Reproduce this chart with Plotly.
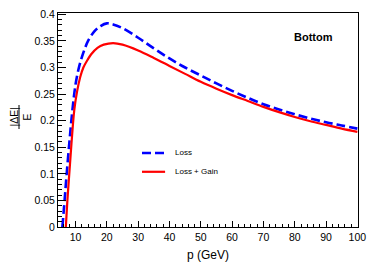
import plotly.graph_objects as go

# Data
p_loss = [5.8, 6.5, 7.1, 8, 9, 10, 11, 12, 13, 14, 16, 18, 20, 22, 25, 30, 35, 40, 45, 50,
          55, 60, 65, 70, 75, 80, 85, 90, 95, 100]
v_loss = [0.0, 0.05, 0.095, 0.157, 0.22, 0.268, 0.298, 0.319, 0.336, 0.350, 0.368, 0.378, 0.383,
          0.381, 0.374, 0.356, 0.336, 0.317, 0.300, 0.285, 0.270, 0.256, 0.243, 0.231, 0.221,
          0.212, 0.204, 0.197, 0.191, 0.185]

p_gain = [6.9, 7.4, 8, 8.7, 9.6, 10.5, 11.5, 12.5, 13.8, 15, 17, 19, 22, 25, 30, 35, 40, 45, 50,
          55, 60, 65, 70, 75, 80, 85, 90, 95, 100]
v_gain = [0.0, 0.05, 0.1, 0.157, 0.22, 0.255, 0.282, 0.300, 0.314, 0.325, 0.337, 0.343, 0.346,
          0.343, 0.332, 0.318, 0.303, 0.288, 0.273, 0.260, 0.248, 0.237, 0.226, 0.216, 0.207,
          0.199, 0.192, 0.185, 0.179]

series_names = ["Loss", "Loss + Gain"]
x_ticks = [10, 20, 30, 40, 50, 60, 70, 80, 90, 100]
y_ticks = [0, 0.05, 0.1, 0.15, 0.2, 0.25, 0.3, 0.35, 0.4]
y_ticktext = ["0", "0.05", "0.1", "0.15", "0.2", "0.25", "0.3", "0.35", "0.4"]

FONT = "Liberation Sans, Arial, sans-serif"

fig = go.Figure()
fig.add_trace(go.Scatter(x=p_loss, y=v_loss, mode="lines", name=series_names[0],
                         line=dict(color="#0000ff", width=2.6, dash="9px,4px", shape="spline"),
                         showlegend=False))
fig.add_trace(go.Scatter(x=p_gain, y=v_gain, mode="lines", name=series_names[1],
                         line=dict(color="#ff0000", width=2.2, shape="spline"),
                         showlegend=False))

fig.update_layout(
    width=374, height=269,
    margin=dict(l=58, r=16, t=13, b=42, autoexpand=False),
    paper_bgcolor="white", plot_bgcolor="white",
    font=dict(family=FONT, size=10, color="black"),
    xaxis=dict(range=[4.4, 100.2], tickvals=x_ticks, ticks="inside", ticklen=6,
               tickcolor="black", showline=True, linecolor="black", linewidth=1, mirror=True,
               showgrid=False, zeroline=False, automargin=False,
               minor=dict(dtick=2, tick0=0, ticks="inside", ticklen=3, tickcolor="black"),
               title=dict(text="p (GeV)", font=dict(size=12), standoff=9),
               tickfont=dict(size=10.5)),
    yaxis=dict(range=[0, 0.4025], tickvals=y_ticks, ticktext=y_ticktext, ticks="inside",
               ticklen=8, tickcolor="black", showline=True, linecolor="black", linewidth=1,
               mirror=True, showgrid=False, zeroline=False, automargin=False,
               minor=dict(dtick=0.01, tick0=0, ticks="inside", ticklen=4, tickcolor="black"),
               tickfont=dict(size=10.5)),
)

# legend drawn manually
fig.add_shape(type="line", xref="paper", yref="paper", x0=0.28, x1=0.357, y0=0.346, y1=0.346,
              line=dict(color="#0000ff", width=2.6, dash="9px,4px"))
fig.add_shape(type="line", xref="paper", yref="paper", x0=0.28, x1=0.357, y0=0.258, y1=0.258,
              line=dict(color="#ff0000", width=2.2))
fig.add_annotation(xref="paper", yref="paper", x=0.382, y=0.346, text=series_names[0],
                   showarrow=False, xanchor="left", yanchor="middle", font=dict(size=8))
fig.add_annotation(xref="paper", yref="paper", x=0.382, y=0.258, text=series_names[1],
                   showarrow=False, xanchor="left", yanchor="middle", font=dict(size=8))

# Label
fig.add_annotation(xref="paper", yref="paper", x=(313 - 58) / 300, y=(227 - 37) / 214,
                   text="<b>Bottom</b>", showarrow=False, xanchor="center", yanchor="middle",
                   font=dict(size=11))

# y-axis title as fraction, rotated
fig.add_annotation(xref="paper", yref="paper", x=(13.5 - 58) / 300, y=(227 - 117) / 214,
                   text="|ΔE|", textangle=-90, showarrow=False, xanchor="center",
                   yanchor="middle", font=dict(size=10.5))
fig.add_annotation(xref="paper", yref="paper", x=(26.5 - 58) / 300, y=(227 - 117) / 214,
                   text="E", textangle=-90, showarrow=False, xanchor="center",
                   yanchor="middle", font=dict(size=10.5))
fig.add_shape(type="line", xref="paper", yref="paper", x0=(19 - 58) / 300, x1=(19 - 58) / 300,
              y0=(227 - 129) / 214, y1=(227 - 105) / 214, line=dict(color="black", width=1))

fig.write_html("out.html", config={"displayModeBar": False},
               post_script="document.body.style.margin='0';document.body.style.padding='0';")
